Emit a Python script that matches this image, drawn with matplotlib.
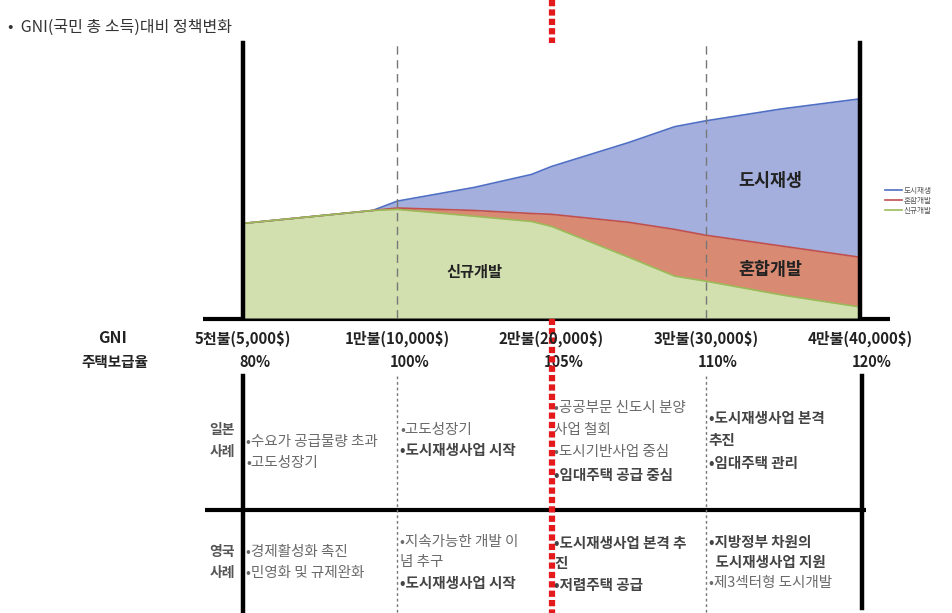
import matplotlib
matplotlib.use("Agg")
import matplotlib.pyplot as plt
import numpy as np

plt.rcParams['font.family'] = ['Noto Sans CJK KR', 'DejaVu Sans']

# ---- data -------------------------------------------------------------
gni_labels = ["5천불(5,000$)", "1만불(10,000$)", "2만불(20,000$)",
              "3만불(30,000$)", "4만불(40,000$)"]
housing_rate = ["80%", "100%", "105%", "110%", "120%"]

# position along the GNI axis (0 = 5천불 ... 4 = 4만불)
stage = [0, 0.84, 1, 1.5, 1.87, 2, 2.5, 2.8, 3, 3.5, 4]
new_dev = [34.4, 39.1, 39.5, 37.0, 35.1, 33.3, 22.1, 15.2, 13.4, 8.3, 4.0]     # 신규개발
mixed_dev = [0, 0, 0.5, 2.1, 2.9, 4.4, 12.7, 17.0, 16.7, 17.8, 18.1]          # 혼합개발
regen = [0, 0, 2.5, 8.4, 14.2, 17.4, 29.0, 37.4, 41.6, 50.0, 57.6]            # 도시재생

japan_cases = [
    ["•수요가 공급물량 초과", "•고도성장기"],
    ["•고도성장기", "•도시재생사업 시작"],
    ["•공공부문 신도시 분양", "사업 철회", "•도시기반사업 중심", "•임대주택 공급 중심"],
    ["•도시재생사업 본격", "추진", "•임대주택 관리"],
]
uk_cases = [
    ["•경제활성화 촉진", "•민영화 및 규제완화"],
    ["•지속가능한 개발 이", "념 추구", "•도시재생사업 시작"],
    ["•도시재생사업 본격 추", "진", "•저렴주택 공급"],
    ["•지방정부 차원의", "  도시재생사업 지원", "•제3섹터형 도시개발"],
]

# ---- figure -----------------------------------------------------------
W, H = 952, 613
fig = plt.figure(figsize=(W / 100, H / 100), dpi=100)

# overlay in pixel coordinates for the table and frame lines
ov = fig.add_axes([0, 0, 1, 1])
ov.set_xlim(0, W)
ov.set_ylim(H, 0)
ov.axis("off")

# stacked area chart
top_px, bot_px, left_px, right_px = 43, 318, 243, 860
ax = fig.add_axes([left_px / W, (H - bot_px) / H,
                   (right_px - left_px) / W, (bot_px - top_px) / H])
ax.set_xlim(0, 4)
ax.set_ylim(0, 100)

c_green_f, c_green_l = "#d2e0b0", "#9bbb59"
c_red_f, c_red_l = "#d98a72", "#c0504d"
c_blue_f, c_blue_l = "#a4afdd", "#4f6fc4"

x = np.array(stage)
g = np.array(new_dev)
r = g + np.array(mixed_dev)
b = r + np.array(regen)

ax.fill_between(x, 0, g, color=c_green_f, lw=0)
ax.fill_between(x, g, r, color=c_red_f, lw=0)
ax.fill_between(x, r, b, color=c_blue_f, lw=0)
l_blue, = ax.plot(x, b, color=c_blue_l, lw=1.2)
l_red, = ax.plot(x, r, color=c_red_l, lw=1.2)
l_green, = ax.plot(x, g, color=c_green_l, lw=1.2)

for xv in (1, 3):
    ax.axvline(xv, color="#777777", lw=1, ls=(0, (6, 4)))

for s in ("top", "bottom"):
    ax.spines[s].set_visible(False)
for s in ("left", "right"):
    ax.spines[s].set_linewidth(3.2)
    ax.spines[s].set_color("black")
ax.set_yticks([])
ax.set_xticks(range(len(gni_labels)))
ax.set_xticklabels(gni_labels, fontsize=10.8, fontweight="bold", color="#222222")
ax.tick_params(axis="x", length=0, pad=9)

ax.text(1.5, 16.7, "신규개발", fontsize=11, fontweight="bold", ha="center", va="center", color="#222222")
ax.text(3.42, 50, "도시재생", fontsize=12.5, fontweight="bold", ha="center", va="center", color="#222222")
ax.text(3.42, 17.5, "혼합개발", fontsize=12.5, fontweight="bold", ha="center", va="center", color="#222222")

fig.legend([l_blue, l_red, l_green], ["도시재생", "혼합개발", "신규개발"],
           loc="upper left", bbox_to_anchor=(878 / W, 1 - 180 / H),
           frameon=False, fontsize=5.5, handlelength=2.2, handletextpad=0.3,
           labelspacing=0.25, labelcolor="#555555")

# category pixel positions taken from the chart's x scale
cat_px = [ax.transData.transform((i, 0))[0] for i in range(len(gni_labels))]

# row labels and housing supply ratios
ov.text(113, 338, "GNI", fontsize=11.5, fontweight="bold", ha="center", va="center", color="#222222")
ov.text(115, 362, "주택보급율", fontsize=10.5, fontweight="bold", ha="center", va="center", color="#222222")
for px, lab in zip(cat_px, housing_rate):
    ov.text(px + 12, 362, lab, fontsize=10.5, fontweight="bold", ha="center", va="center", color="#222222")

# frame lines
ov.plot([203, 890], [319, 319], color="black", lw=3, solid_capstyle="butt")
ov.plot([205, 866], [510, 510], color="black", lw=3, solid_capstyle="butt")
ov.plot([cat_px[0]] * 2, [376, 613], color="black", lw=3.2)
ov.plot([cat_px[4] + 2] * 2, [376, 608], color="black", lw=3.2)
for i in (1, 3):
    ov.plot([cat_px[i]] * 2, [376, 613], color="#777777", lw=1, ls=(0, (2, 2)))

# title
ov.text(8, 27, "•  GNI(국민 총 소득)대비 정책변화", fontsize=11.5, ha="left", va="center", color="#333333")

# table rows
for label, yv in (("일본", 430), ("사례", 452), ("영국", 552), ("사례", 573)):
    ov.text(222, yv, label, fontsize=10, fontweight="bold", ha="center", va="center", color="#555555")

jp_y = [[442, 463], [430, 450], [408, 430, 452, 475], [418, 440, 463]]
uk_y = [[552, 573], [542, 562, 583], [543, 563, 585], [542, 562, 583]]
bold_lines = {"•도시재생사업 시작", "•임대주택 공급 중심", "•임대주택 관리",
              "•도시재생사업 본격", "추진", "•저렴주택 공급", "•도시재생사업 본격 추", "진",
              "•지방정부 차원의", "  도시재생사업 지원"}
for rows, ys in ((japan_cases, jp_y), (uk_cases, uk_y)):
    for col, (lines, yy) in enumerate(zip(rows, ys)):
        for txt, yv in zip(lines, yy):
            bold = txt in bold_lines
            ov.text(cat_px[col] + 3, yv, txt, fontsize=10.5, ha="left", va="center",
                    fontweight="bold" if bold else "normal",
                    color="#444444" if bold else "#6a6a6a")

# red dotted marker line at 2만불
ov.plot([cat_px[2]] * 2, [0, H], color="#e3191c", lw=4.5, ls=(0, (1, 0.5)), zorder=10)

fig.savefig("out.png", dpi=100)
